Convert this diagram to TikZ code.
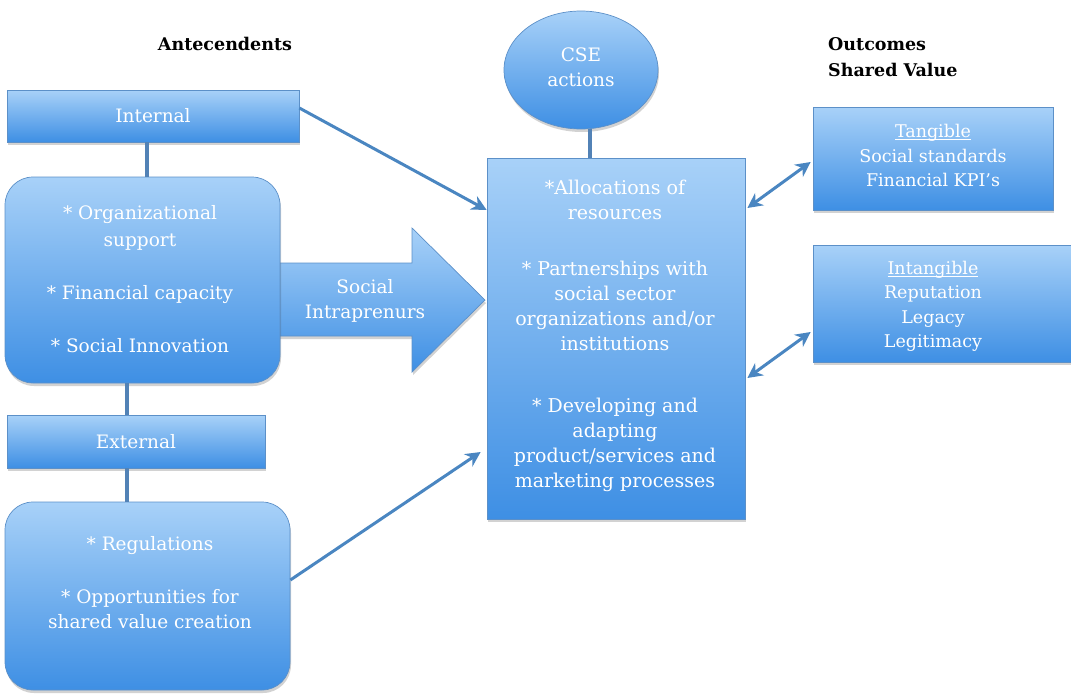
\documentclass[tikz,border=0pt]{standalone}
\usepackage{fontspec}
\setmainfont{DejaVu Serif}
\usetikzlibrary{arrows.meta,shadows,shapes.geometric,calc}
\definecolor{boxtop}{HTML}{A8D1F8}
\definecolor{boxbot}{HTML}{3E8FE4}
\definecolor{edgeblue}{HTML}{5C90C8}
\definecolor{linkblue}{HTML}{4A86C1}
\definecolor{stemblue}{HTML}{5282B6}
% underline set close to the baseline, crossing the descenders
\newcommand\lowrule[1]{\setbox0\hbox{#1}\rlap{\rule[-2.5pt]{\wd0}{0.8pt}}\box0}

\begin{document}
\begin{tikzpicture}[x=1pt,y=-1pt,
  panel/.style={draw=edgeblue, line width=0.7pt, top color=boxtop, bottom color=boxbot,
    inner sep=0pt, drop shadow={shadow xshift=1pt, shadow yshift=-3pt, opacity=0.25, fill=black!70}},
  txt/.style={text=white, font=\fontsize{18.5}{25}\selectfont, align=center, inner sep=0pt},
  head/.style={text=black, font=\bfseries\fontsize{17.5}{26}\selectfont, inner sep=0pt},
  stem/.style={draw=stemblue, line width=3.5pt},
  link/.style={draw=linkblue, line width=3pt, -{Stealth[length=15pt,width=15pt]}},
  twoway/.style={draw=linkblue, line width=3pt, {Stealth[length=15pt,width=15pt]}-{Stealth[length=15pt,width=15pt]}}
]
\useasboundingbox (0,0) rectangle (1071,694);

% headings
\node[head] (antTitle) at (225,44) {Antecendents};
\node[head, anchor=west, align=left] (outTitle) at (828,57) {Outcomes\\Shared Value};

% broad arrow carrying the intrapreneurs
\shade[top color=boxtop, bottom color=boxbot, draw=edgeblue, line width=0.7pt,
  drop shadow={shadow xshift=1pt, shadow yshift=-3pt, opacity=0.25, fill=black!70}]
  (272,263) -- (412,263) -- (412,228) -- (485,300) -- (412,372) -- (412,336) -- (272,336) -- cycle;
\node[txt] (intra) at (365,301) {Social\\Intraprenurs};

% antecedent boxes
\node[panel, minimum width=292pt, minimum height=52pt] (int) at (153,116) {};
\node[txt] (intLbl) at (int.center) {Internal};
\node[panel, rounded corners=28pt, minimum width=275pt, minimum height=206pt] (b1) at (142.5,280) {};
\node[txt, font=\fontsize{18.5}{27}\selectfont] (b1Lbl) at (140,279)
  {* Organizational\\support\\[26pt]* Financial capacity\\[26pt]* Social Innovation};
\node[panel, minimum width=258pt, minimum height=53pt] (ext) at (136,441.5) {};
\node[txt] (extLbl) at (ext.center) {External};
\node[panel, rounded corners=28pt, minimum width=285pt, minimum height=188pt] (b2) at (147.5,596) {};
\node[txt] (b2Lbl) at (150,583)
  {* Regulations\\[28pt]* Opportunities for\\shared value creation};

% connecting stems
\draw[stem] ([xshift=-6pt]int.south) -- ([xshift=-6pt]int.south |- b1.north);
\draw[stem] ([xshift=-9pt]ext.north) -- ([xshift=-9pt]ext.north |- b1.south);
\draw[stem] ([xshift=-9pt]ext.south) -- ([xshift=-9pt]ext.south |- b2.north);

% CSE actions
\node[panel, ellipse, minimum width=154pt, minimum height=118pt] (cse) at (581,70) {};
\node[txt] (cseLbl) at (581,67) {CSE\\actions};
\node[panel, minimum width=258pt, minimum height=361pt] (main) at (616,338.5) {};
\draw[stem] ([xshift=-26pt]main.north) -- ([xshift=-26pt]main.north |- cse.south);
\node[txt, font=\fontsize{19}{25}\selectfont] (mainLbl) at (615,336)
  {*Allocations of\\resources\\[31pt]* Partnerships with\\social sector\\organizations and/or\\institutions\\[37pt]* Developing and\\adapting\\product/services and\\marketing processes};

% outcomes
\node[panel, minimum width=240pt, minimum height=103pt] (tan) at (933,158.5) {};
\node[txt, font=\fontsize{17.5}{24.5}\selectfont] (tanLbl) at (933,155.5)
  {\lowrule{Tangible}\\Social standards\\Financial KPI's};
\node[panel, minimum width=258pt, minimum height=117pt] (intan) at (942,303.5) {};
\node[txt, font=\fontsize{17.5}{24.5}\selectfont] (intanLbl) at (933,306.5)
  {\lowrule{Intangible}\\Reputation\\Legacy\\Legitimacy};

% arrows
\draw[link] ([yshift=8pt]int.east) -- ([yshift=128.5pt]main.west);
\draw[link] ([yshift=16pt]b2.east) -- ([xshift=-6pt,yshift=-113.5pt]main.west);
\draw[twoway] ([xshift=2pt,yshift=130.5pt]main.east) -- ([xshift=-2pt,yshift=-3.5pt]tan.west);
\draw[twoway] ([xshift=2pt,yshift=-39.5pt]main.east) -- ([xshift=-2pt,yshift=-28.5pt]intan.west);
\end{tikzpicture}
\end{document}
